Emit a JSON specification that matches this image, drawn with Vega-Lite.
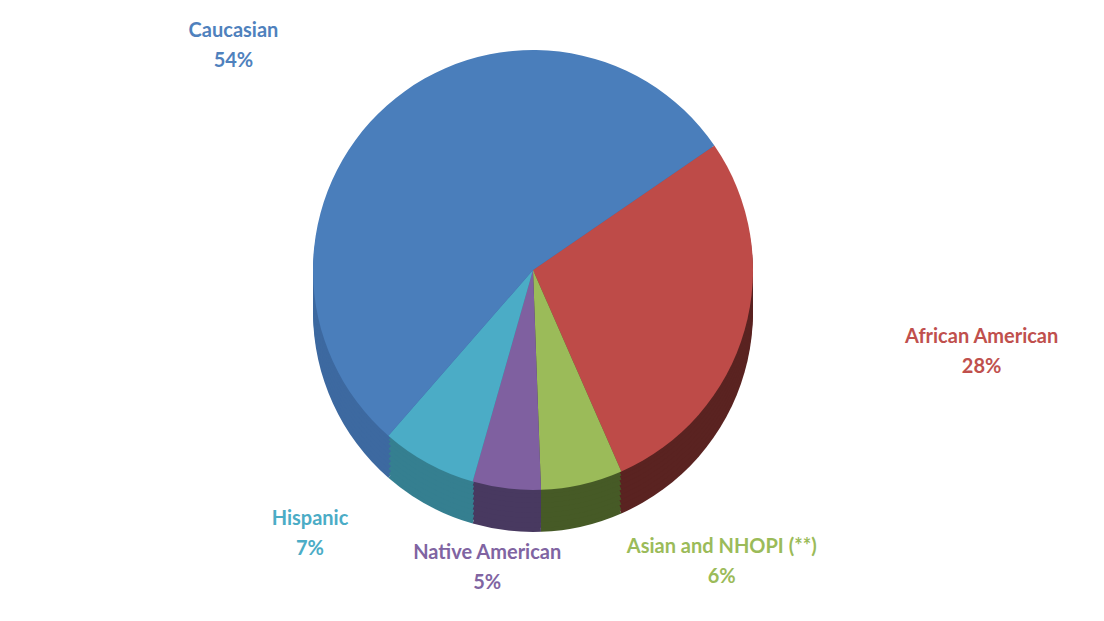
{
  "$schema": "https://vega.github.io/schema/vega-lite/v6.json",
  "width": 1066,
  "height": 540,
  "autosize": {"type": "none"},
  "padding": {"left": 0, "top": 0, "right": 38, "bottom": 81},
  "background": "white",
  "data": {
    "values": [
      {"group": "African American", "share": 0.28, "rank": 1},
      {"group": "Asian and NHOPI (**)", "share": 0.06, "rank": 2},
      {"group": "Native American", "share": 0.05, "rank": 3},
      {"group": "Hispanic", "share": 0.07, "rank": 4},
      {"group": "Caucasian", "share": 0.54, "rank": 5}
    ]
  },
  "encoding": {
    "theta": {"field": "share", "type": "quantitative", "stack": true, "scale": {"range": [0.969, 7.252]}},
    "order": {"field": "rank", "type": "quantitative"}
  },
  "layer": [
    {"mark": {"type": "arc", "outerRadius": 220, "yOffset": 42},
     "encoding": {"color": {"field": "group", "type": "nominal", "legend": null,
       "scale": {"domain": ["African American", "Asian and NHOPI (**)", "Native American", "Hispanic", "Caucasian"], "range": ["#5a2321", "#465a26", "#483960", "#357f90", "#3d69a0"]}}}},
    {"mark": {"type": "arc", "outerRadius": 220, "yOffset": 38},
     "encoding": {"color": {"field": "group", "type": "nominal", "legend": null,
       "scale": {"domain": ["African American", "Asian and NHOPI (**)", "Native American", "Hispanic", "Caucasian"], "range": ["#5a2321", "#465a26", "#483960", "#357f90", "#3d69a0"]}}}},
    {"mark": {"type": "arc", "outerRadius": 220, "yOffset": 33},
     "encoding": {"color": {"field": "group", "type": "nominal", "legend": null,
       "scale": {"domain": ["African American", "Asian and NHOPI (**)", "Native American", "Hispanic", "Caucasian"], "range": ["#5a2321", "#465a26", "#483960", "#357f90", "#3d69a0"]}}}},
    {"mark": {"type": "arc", "outerRadius": 220, "yOffset": 28},
     "encoding": {"color": {"field": "group", "type": "nominal", "legend": null,
       "scale": {"domain": ["African American", "Asian and NHOPI (**)", "Native American", "Hispanic", "Caucasian"], "range": ["#5a2321", "#465a26", "#483960", "#357f90", "#3d69a0"]}}}},
    {"mark": {"type": "arc", "outerRadius": 220, "yOffset": 23},
     "encoding": {"color": {"field": "group", "type": "nominal", "legend": null,
       "scale": {"domain": ["African American", "Asian and NHOPI (**)", "Native American", "Hispanic", "Caucasian"], "range": ["#5a2321", "#465a26", "#483960", "#357f90", "#3d69a0"]}}}},
    {"mark": {"type": "arc", "outerRadius": 220, "yOffset": 18},
     "encoding": {"color": {"field": "group", "type": "nominal", "legend": null,
       "scale": {"domain": ["African American", "Asian and NHOPI (**)", "Native American", "Hispanic", "Caucasian"], "range": ["#5a2321", "#465a26", "#483960", "#357f90", "#3d69a0"]}}}},
    {"mark": {"type": "arc", "outerRadius": 220, "yOffset": 13},
     "encoding": {"color": {"field": "group", "type": "nominal", "legend": null,
       "scale": {"domain": ["African American", "Asian and NHOPI (**)", "Native American", "Hispanic", "Caucasian"], "range": ["#5a2321", "#465a26", "#483960", "#357f90", "#3d69a0"]}}}},
    {"mark": {"type": "arc", "outerRadius": 220, "yOffset": 8},
     "encoding": {"color": {"field": "group", "type": "nominal", "legend": null,
       "scale": {"domain": ["African American", "Asian and NHOPI (**)", "Native American", "Hispanic", "Caucasian"], "range": ["#5a2321", "#465a26", "#483960", "#357f90", "#3d69a0"]}}}},
    {"mark": {"type": "arc", "outerRadius": 220, "yOffset": 4},
     "encoding": {"color": {"field": "group", "type": "nominal", "legend": null,
       "scale": {"domain": ["African American", "Asian and NHOPI (**)", "Native American", "Hispanic", "Caucasian"], "range": ["#5a2321", "#465a26", "#483960", "#357f90", "#3d69a0"]}}}},
    {"mark": {"type": "arc", "outerRadius": 220},
     "encoding": {"color": {"field": "group", "type": "nominal", "legend": null,
       "scale": {"domain": ["African American", "Asian and NHOPI (**)", "Native American", "Hispanic", "Caucasian"], "range": ["#be4b48", "#9bbb59", "#7f60a0", "#4bacc6", "#4a7ebb"]}}}},
    {"mark": {"type": "text", "radius": 300, "dy": -15, "font": "Lato", "fontSize": 20, "fontWeight": "bold", "align": "center",
       "dx": {"expr": "(sin(scale('theta', 0.5*datum.share_start + 0.5*datum.share_end)) > 0.15 ? 1 : (sin(scale('theta', 0.5*datum.share_start + 0.5*datum.share_end)) < -0.15 ? -1 : 0)) * length(datum.group) * 5.2 + 80 * sin(scale('theta', 0.5*datum.share_start + 0.5*datum.share_end))"}},
     "encoding": {"text": {"field": "group"},
       "color": {"field": "group", "type": "nominal", "legend": null,
       "scale": {"domain": ["African American", "Asian and NHOPI (**)", "Native American", "Hispanic", "Caucasian"], "range": ["#c0504d", "#9bbb59", "#8064a2", "#4bacc6", "#4f81bd"]}}}},
    {"mark": {"type": "text", "radius": 300, "dy": 15, "font": "Lato", "fontSize": 20, "fontWeight": "bold", "align": "center",
       "dx": {"expr": "(sin(scale('theta', 0.5*datum.share_start + 0.5*datum.share_end)) > 0.15 ? 1 : (sin(scale('theta', 0.5*datum.share_start + 0.5*datum.share_end)) < -0.15 ? -1 : 0)) * length(datum.group) * 5.2 + 80 * sin(scale('theta', 0.5*datum.share_start + 0.5*datum.share_end))"}},
     "encoding": {"text": {"field": "share", "format": ".0%"},
       "color": {"field": "group", "type": "nominal", "legend": null,
       "scale": {"domain": ["African American", "Asian and NHOPI (**)", "Native American", "Hispanic", "Caucasian"], "range": ["#c0504d", "#9bbb59", "#8064a2", "#4bacc6", "#4f81bd"]}}}}
  ],
  "resolve": {"scale": {"color": "independent"}},
  "config": {"view": {"stroke": null}}
}
